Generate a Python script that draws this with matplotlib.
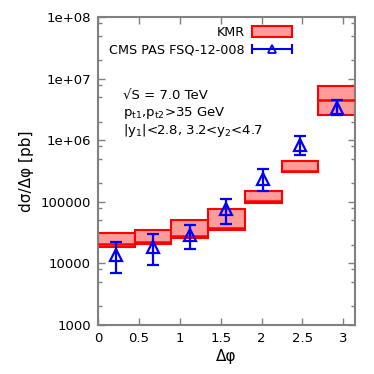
import numpy as np
import matplotlib
matplotlib.use("Agg")
import matplotlib.pyplot as plt
from matplotlib.lines import Line2D
from matplotlib.patches import Patch
from matplotlib.legend_handler import HandlerBase
from matplotlib.ticker import LogLocator, NullFormatter, FixedLocator

plt.rcParams['font.family'] = 'DejaVu Sans'
plt.rcParams['mathtext.default'] = 'regular'

# Delta phi bins (7 bins from 0 to pi)
bin_edges = np.linspace(0, np.pi, 8)
bin_centers = 0.5 * (bin_edges[:-1] + bin_edges[1:])

# KMR prediction band (low, central, high) in pb
kmr_low = [18200, 20700, 26100, 34800, 94700, 308000, 2.56e6]
kmr_mid = [20700, 22500, 27800, 38000, 103000, 320000, 4.45e6]
kmr_high = [31500, 34800, 50700, 75500, 151000, 454000, 7.67e6]

# CMS data points
cms_val = [13700, 18700, 28900, 75500, 234000, 836000, 3.3e6]
cms_up = [22000, 30000, 42000, 111000, 344000, 1.17e6, 4.5e6]
cms_dn = [6980, 9420, 17100, 44000, 151000, 576000, 2.56e6]

frame_col = '#808080'
box_fill = '#ff9b9b'


class HorizErrHandler(HandlerBase):
    # gnuplot-style legend sample: horizontal bar with caps and a triangle
    def create_artists(self, legend, orig_handle, xdescent, ydescent,
                       width, height, fontsize, trans):
        y = height / 2 - ydescent
        x0, x1 = -xdescent, -xdescent + width
        c = 3.0
        line = Line2D([x0, x1], [y, y], color='blue', lw=1.5, transform=trans)
        cap1 = Line2D([x0, x0], [y - c, y + c], color='blue', lw=1.5, transform=trans)
        cap2 = Line2D([x1, x1], [y - c, y + c], color='blue', lw=1.5, transform=trans)
        mk = Line2D([(x0 + x1) / 2], [y], marker='^', ms=6, mfc='none',
                    mec='blue', mew=1.3, ls='none', transform=trans)
        return [line, cap1, cap2, mk]


fig = plt.figure(figsize=(3.74, 3.74), dpi=100)
ax = fig.add_axes([0.262, 0.131, 0.687, 0.8235])

widths = np.diff(bin_edges)
heights = np.array(kmr_high) - np.array(kmr_low)
ax.bar(bin_edges[:-1], heights, bottom=kmr_low, width=widths, align='edge',
       facecolor=box_fill, edgecolor='red', linewidth=1.5, zorder=2)
ax.hlines(kmr_mid, bin_edges[:-1], bin_edges[1:], color='red', lw=1.8, zorder=3)

yerr = [np.array(cms_val) - np.array(cms_dn), np.array(cms_up) - np.array(cms_val)]
ax.errorbar(bin_centers, cms_val, yerr=yerr, fmt='^', color='blue', ms=8,
            mfc='none', mew=1.6, elinewidth=1.6, capsize=4, capthick=1.6, zorder=4)

ax.set_yscale('log')
ax.set_xlim(0, np.pi)
ax.set_ylim(1000, 1e8)
ax.xaxis.set_major_locator(FixedLocator([0, 0.5, 1, 1.5, 2, 2.5, 3]))
ax.set_xticklabels(['0', '0.5', '1', '1.5', '2', '2.5', '3'])
ax.yaxis.set_major_locator(FixedLocator([1e3, 1e4, 1e5, 1e6, 1e7, 1e8]))
ax.set_yticklabels(['1000', '10000', '100000', '1e+06', '1e+07', '1e+08'])
ax.yaxis.set_minor_locator(LogLocator(base=10, subs=(2, 5, 8)))
ax.yaxis.set_minor_formatter(NullFormatter())

ax.tick_params(which='both', direction='in', top=True, right=True,
               color=frame_col, labelsize=9.5)
ax.tick_params(which='major', length=5, width=1, pad=5)
ax.tick_params(which='minor', length=3, width=1)
for sp in ax.spines.values():
    sp.set_color(frame_col)
    sp.set_linewidth(1.5)

ax.set_xlabel('Δφ', fontsize=11, labelpad=3)
ax.set_ylabel('dσ/Δφ [pb]', fontsize=11, labelpad=5)

ax.text(0.097, 0.747, '√S = 7.0 TeV', transform=ax.transAxes, fontsize=9.5, va='center')
ax.text(0.097, 0.688, 'p$_{t1}$,p$_{t2}$>35 GeV', transform=ax.transAxes, fontsize=9.5, va='center')
ax.text(0.097, 0.630, '|y$_1$|<2.8, 3.2<y$_2$<4.7', transform=ax.transAxes, fontsize=9.5, va='center')

kmr_handle = Patch(facecolor=box_fill, edgecolor='red', linewidth=1.5)
cms_handle = Line2D([], [], color='blue')
ax.legend([kmr_handle, cms_handle], ['KMR', 'CMS PAS FSQ-12-008'],
          handler_map={Line2D: HorizErrHandler()},
          loc='upper right', bbox_to_anchor=(0.79, 1.0), frameon=False,
          markerfirst=False, fontsize=9.2, handlelength=3.1, handleheight=0.9,
          handletextpad=0.6, labelspacing=0.35, borderaxespad=0.3)

fig.savefig('out.png', dpi=100)
